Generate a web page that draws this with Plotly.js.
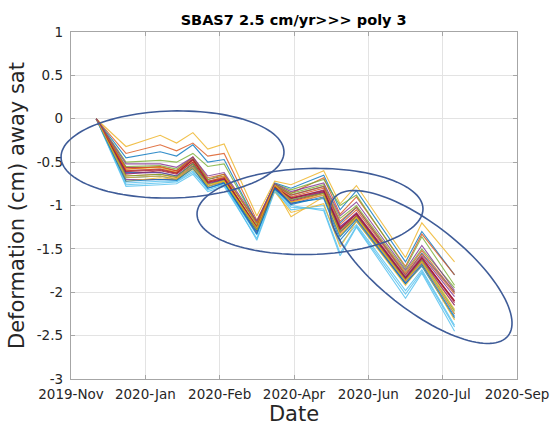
<!DOCTYPE html>
<html>
<head>
<meta charset="utf-8">
<script src="https://cdn.plot.ly/plotly-3.0.1.min.js"></script>
<style>html,body{margin:0;padding:0;background:#fff;}#chart{width:551px;height:426px;}</style>
</head>
<body>
<div id="chart"></div>
<script>
// Acquisition dates (x)
const dates = ['2019-12-02','2019-12-22','2020-01-14','2020-01-25','2020-02-05','2020-02-15','2020-02-26',
  '2020-03-19','2020-03-31','2020-04-11','2020-05-03','2020-05-14','2020-05-25','2020-06-27','2020-07-08','2020-07-30'];

// Deformation series (cm)
const p00 = [0,-0.45,-0.38,-0.43,-0.30,-0.50,-0.47,-1.20,-0.74,-0.80,-0.65,-1.05,-0.83,-1.65,-1.30,-1.80];
const p01 = [0,-0.40,-0.30,-0.37,-0.28,-0.43,-0.40,-1.17,-0.76,-0.86,-0.68,-1.10,-0.90,-1.70,-1.33,-1.80];
const p02 = [0,-0.32,-0.19,-0.28,-0.16,-0.35,-0.29,-1.12,-0.72,-0.76,-0.60,-0.98,-0.77,-1.60,-1.20,-1.65];
const p03 = [0,-0.60,-0.58,-0.62,-0.47,-0.72,-0.68,-1.25,-0.78,-0.92,-0.82,-1.25,-1.08,-1.82,-1.58,-2.05];
const p04 = [0,-0.50,-0.48,-0.50,-0.40,-0.55,-0.52,-1.20,-0.75,-0.82,-0.70,-1.00,-0.88,-1.72,-1.36,-1.92];
const p05 = [0,-0.78,-0.76,-0.75,-0.64,-0.84,-0.78,-1.38,-0.82,-1.00,-1.06,-1.58,-1.25,-2.07,-1.78,-2.45];
const p06 = [0,-0.56,-0.56,-0.60,-0.46,-0.70,-0.66,-1.28,-0.80,-0.95,-0.85,-1.28,-1.12,-1.85,-1.62,-2.10];
const p07 = [0,-0.62,-0.62,-0.66,-0.52,-0.76,-0.70,-1.24,-0.77,-0.88,-0.78,-1.20,-1.02,-1.80,-1.55,-2.00];
const p08 = [0,-0.66,-0.64,-0.68,-0.54,-0.78,-0.72,-1.30,-0.80,-0.96,-0.86,-1.32,-1.12,-1.86,-1.64,-2.15];
const p09 = [0,-0.58,-0.56,-0.62,-0.50,-0.74,-0.66,-1.20,-0.80,-1.13,-0.90,-1.35,-1.15,-1.84,-1.62,-2.20];
const p10 = [0,-0.70,-0.70,-0.70,-0.56,-0.80,-0.74,-1.32,-0.79,-0.98,-0.88,-1.30,-1.15,-1.88,-1.66,-2.25];
const p11 = [0,-0.55,-0.54,-0.58,-0.45,-0.70,-0.64,-1.22,-0.76,-0.86,-0.76,-1.15,-1.00,-1.76,-1.50,-1.95];
const p12 = [0,-0.74,-0.72,-0.72,-0.60,-0.82,-0.76,-1.34,-0.82,-1.05,-1.00,-1.45,-1.22,-1.98,-1.74,-2.38];
const p13 = [0,-0.64,-0.60,-0.64,-0.50,-0.74,-0.70,-1.26,-0.79,-0.92,-0.84,-1.26,-1.10,-1.84,-1.60,-2.10];
const p14 = [0,-0.68,-0.66,-0.70,-0.55,-0.78,-0.73,-1.30,-0.81,-0.97,-0.92,-1.40,-1.18,-1.90,-1.70,-2.30];
const p15 = [0,-0.60,-0.58,-0.62,-0.48,-0.72,-0.68,-1.24,-0.78,-0.90,-0.80,-1.22,-1.05,-1.80,-1.56,-2.02];
const p16 = [0,-0.72,-0.68,-0.70,-0.58,-0.78,-0.72,-1.28,-0.84,-1.08,-0.98,-1.48,-1.18,-1.92,-1.68,-2.32];
const p17 = [0,-0.63,-0.62,-0.66,-0.52,-0.75,-0.70,-1.27,-0.80,-0.94,-0.84,-1.24,-1.10,-1.84,-1.62,-2.15];
const p18 = [0,-0.66,-0.64,-0.67,-0.52,-0.76,-0.71,-1.28,-0.78,-0.93,-0.86,-1.30,-1.13,-1.86,-1.64,-2.22];
const p19 = [0,-0.76,-0.74,-0.73,-0.62,-0.80,-0.75,-1.40,-0.84,-1.02,-1.04,-1.55,-1.24,-2.02,-1.76,-2.40];
const p20 = [0,-0.61,-0.59,-0.63,-0.47,-0.73,-0.69,-1.25,-0.79,-0.91,-0.83,-1.27,-1.09,-1.83,-1.60,-2.12];
const p21 = [0,-0.72,-0.70,-0.71,-0.57,-0.80,-0.74,-1.33,-0.80,-0.99,-0.90,-1.36,-1.16,-1.90,-1.68,-2.28];
const p22 = [0,-0.58,-0.55,-0.60,-0.44,-0.68,-0.64,-1.20,-0.77,-0.88,-0.78,-1.18,-1.02,-1.78,-1.52,-2.00];
const p23 = [0,-0.68,-0.66,-0.69,-0.56,-0.76,-0.72,-1.26,-0.76,-0.96,-0.88,-1.34,-1.14,-1.87,-1.65,-2.25];
const p24 = [0,-0.52,-0.52,-0.56,-0.44,-0.66,-0.62,-1.18,-0.75,-0.84,-0.74,-1.12,-0.96,-1.74,-1.46,-1.98];
const allSeries = [p00,p01,p02,p03,p04,p05,p06,p07,p08,p09,p10,p11,p12,p13,p14,p15,p16,p17,p18,p19,p20,p21,p22,p23,p24];

// MATLAB default colour order
const colorOrder = ['#0072BD','#D95319','#EDB120','#7E2F8E','#77AC30','#4DBEEE','#A2142F'];

// Axis ticks
const xTickVals = ['2019-11-15','2020-01-04','2020-02-23','2020-04-13','2020-06-02','2020-07-22','2020-09-10'];
const xTickText = ['2019-Nov','2020-Jan','2020-Feb','2020-Apr','2020-Jun','2020-Jul','2020-Sep'];
const yTickVals = [-3,-2.5,-2,-1.5,-1,-0.5,0,0.5,1];
const yTickText = ['-3','-2.5','-2','-1.5','-1','-0.5','0','0.5','1'];

const traces = allSeries.map((s, i) => ({
  x: dates, y: s, type: 'scatter', mode: 'lines',
  line: {color: colorOrder[i % colorOrder.length], width: 1.1},
  opacity: 0.8, hoverinfo: 'skip'
}));

// Hand-drawn ellipse overlays, in plot-pixel geometry converted to paper coords
const plotL = 71, plotR = 517, plotT = 32, plotB = 379;
function ellipsePath(cx, cy, a, b, rotDeg) {
  const th = rotDeg * Math.PI / 180, pts = [];
  for (let k = 0; k <= 120; k++) {
    const t = 2 * Math.PI * k / 120;
    const ex = a * Math.cos(t), ey = b * Math.sin(t);
    const px = cx + ex * Math.cos(th) - ey * Math.sin(th);
    const py = cy + ex * Math.sin(th) + ey * Math.cos(th);
    const u = (px - plotL) / (plotR - plotL), v = (plotB - py) / (plotB - plotT);
    pts.push((k ? 'L' : 'M') + u.toFixed(4) + ',' + v.toFixed(4));
  }
  return pts.join(' ') + ' Z';
}
const ellColor = '#3F5C98';
const shapes = [
  {type:'path', xref:'paper', yref:'paper', path: ellipsePath(172.5, 154.5, 111.5, 43.5, -1.5), line:{color:ellColor, width:1.6}},
  {type:'path', xref:'paper', yref:'paper', path: ellipsePath(310, 211.5, 113, 43, -1.5), line:{color:ellColor, width:1.6}},
  {type:'path', xref:'paper', yref:'paper', path: ellipsePath(421, 267, 111, 42.5, 38.3), line:{color:ellColor, width:1.6}}
];

const axisCommon = {
  showgrid: true, gridcolor: '#E3E3E3', gridwidth: 1,
  showline: true, linecolor: '#A6A6A6', linewidth: 1.2, mirror: 'ticks',
  ticks: 'inside', ticklen: 4, tickcolor: '#A6A6A6',
  zeroline: false, tickfont: {family: 'DejaVu Sans, sans-serif', size: 13.5, color: '#262626'}
};

const layout = {
  width: 551, height: 426,
  margin: {l: 71, r: 34, t: 32, b: 47},
  paper_bgcolor: '#fff', plot_bgcolor: '#fff',
  showlegend: false,
  title: {text: '<b>SBAS7 2.5 cm/yr>>> poly 3</b>', x: 0.533, xanchor: 'center', y: 0.953, yanchor: 'middle',
          font: {family: 'DejaVu Sans, sans-serif', size: 14.5, color: '#000'}},
  xaxis: Object.assign({}, axisCommon, {
    type: 'date', range: ['2019-11-15','2020-09-10'],
    tickmode: 'array', tickvals: xTickVals, ticktext: xTickText,
    ticklabelstandoff: 3,
    title: {text: 'Date', font: {family: 'DejaVu Sans, sans-serif', size: 21, color: '#262626'}, standoff: 1}
  }),
  yaxis: Object.assign({}, axisCommon, {
    range: [-3, 1], tickmode: 'array', tickvals: yTickVals, ticktext: yTickText,
    ticklabelstandoff: 4,
    title: {text: 'Deformation (cm) away sat', font: {family: 'DejaVu Sans, sans-serif', size: 21, color: '#262626'}, standoff: 6}
  }),
  shapes: shapes
};

Plotly.newPlot('chart', traces, layout, {displayModeBar: false, staticPlot: true});
</script>
</body>
</html>
